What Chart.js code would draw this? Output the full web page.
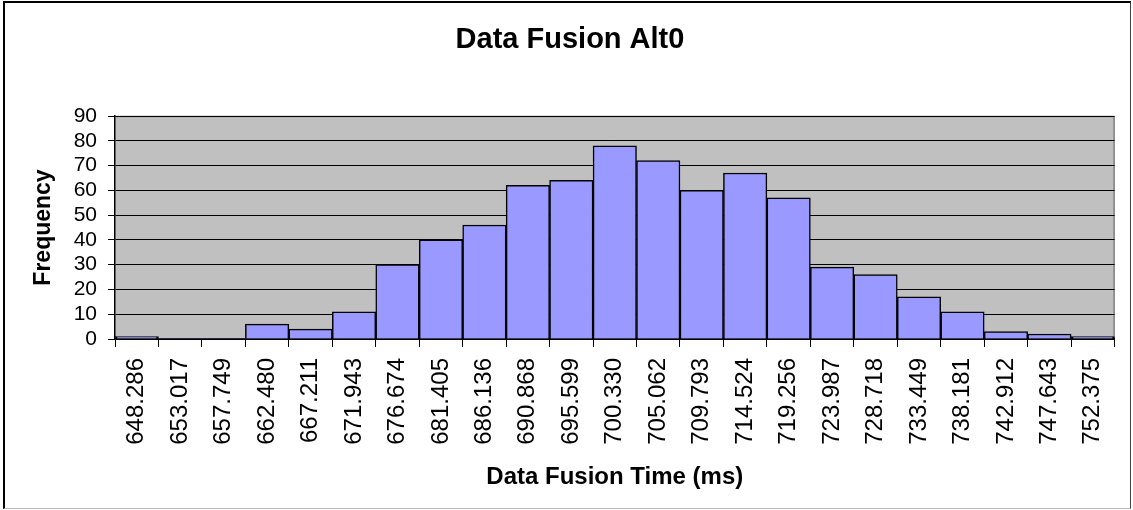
<!DOCTYPE html>
<html>
<head>
<meta charset="utf-8">
<title>Data Fusion Alt0</title>
<script src="https://cdn.jsdelivr.net/npm/chart.js@4.4.1/dist/chart.umd.min.js"></script>
<style>
  html, body { margin: 0; padding: 0; background: #fff; }
  .wrap { position: relative; width: 1133px; height: 510px; }
  .frame {
    position: absolute; left: 3px; top: 1px; right: 2px; bottom: 1px;
    border-left: 2px solid #000; border-top: 2px solid #000;
    border-right: 1px solid #444; border-bottom: 1px solid #bbb;
    pointer-events: none;
  }
</style>
</head>
<body>
<div class="wrap">
  <canvas id="chart"></canvas>
  <div class="frame"></div>
</div>
<script>
const d = document;
const FONT = "'Liberation Sans', Arial, sans-serif";

const chartTitle = "Data Fusion Alt0";
const xTitle = "Data Fusion Time (ms)";
const yTitle = "Frequency";

// bin labels (ms)
const bins = [
  "648.286", "653.017", "657.749", "662.480", "667.211", "671.943",
  "676.674", "681.405", "686.136", "690.868", "695.599", "700.330",
  "705.062", "709.793", "714.524", "719.256", "723.987", "728.718",
  "733.449", "738.181", "742.912", "747.643", "752.375",
];
const frequency = [
  1, 0, 0, 6, 4, 11, 30, 40, 46, 62, 64, 78,
  72, 60, 67, 57, 29, 26, 17, 11, 3, 2, 1,
];
const yTicks = [0, 10, 20, 30, 40, 50, 60, 70, 80, 90];

// grey plot area + light frame, and the chart title
const plotBox = {
  id: "plotBox",
  beforeDraw(chart) {
    const { ctx, chartArea: a } = chart;
    ctx.save();
    ctx.fillStyle = "#c0c0c0";
    ctx.fillRect(a.left, a.top, a.right - a.left, a.bottom - a.top);
    ctx.strokeStyle = "#808080";
    ctx.lineWidth = 1.5;
    ctx.beginPath();
    ctx.moveTo(a.left, a.top + 0.5);
    ctx.lineTo(a.right - 0.5, a.top + 0.5);
    ctx.lineTo(a.right - 0.5, a.bottom);
    ctx.stroke();
    ctx.restore();
  },
  afterDraw(chart) {
    const { ctx } = chart;
    ctx.save();
    ctx.fillStyle = "#000";
    ctx.font = "bold 29px " + FONT;
    ctx.textAlign = "center";
    ctx.textBaseline = "middle";
    ctx.fillText(chartTitle, 570, 40);
    ctx.restore();
  },
};

const ctx = d.getElementById("chart").getContext("2d");
const myChart = new Chart(ctx, {
  type: "bar",
  data: {
    labels: bins,
    datasets: [
      {
        label: yTitle,
        data: frequency,
        backgroundColor: "#9999ff",
        borderColor: "#000",
        borderWidth: (c) => (c.raw === 0 ? 0 : c.raw === 1 ? 2.5 : 1.5),
        barPercentage: 1,
        categoryPercentage: 1,
      },
    ],
  },
  options: {
    responsive: true,
    maintainAspectRatio: false,
    animation: false,
    layout: { padding: { left: 0, right: 16, top: 116, bottom: 0 } },
    plugins: {
      legend: { display: false },
      tooltip: { enabled: false },
      title: { display: false },
    },
    scales: {
      x: {
        afterFit: (s) => { s.height = 171; },
        grid: {
          drawOnChartArea: false,
          drawTicks: true,
          tickLength: 8,
          tickColor: "#000",
          offset: true,
        },
        border: { color: "#000", width: 1.5 },
        ticks: {
          color: "#000",
          font: { family: FONT, size: 24 },
          maxRotation: 90,
          minRotation: 90,
          padding: 11,
          autoSkip: false,
        },
        title: {
          display: true,
          text: xTitle,
          color: "#000",
          font: { family: FONT, size: 24, weight: "bold" },
          padding: { top: 0, bottom: 18 },
        },
      },
      y: {
        min: 0,
        max: 90,
        afterFit: (s) => { s.width = 115; },
        afterBuildTicks: (s) => { s.ticks = yTicks.map((v) => ({ value: v })); },
        grid: {
          color: "#000",
          lineWidth: 1,
          tickLength: 7,
          tickColor: "#000",
        },
        border: { color: "#000", width: 1.5 },
        ticks: {
          color: "#000",
          font: { family: FONT, size: 21 },
          padding: 11,
          autoSkip: false,
        },
        title: {
          display: true,
          text: yTitle,
          color: "#000",
          font: { family: FONT, size: 23, weight: "bold" },
          padding: { top: 30, bottom: 0 },
        },
      },
    },
  },
  plugins: [plotBox],
});
</script>
</body>
</html>
